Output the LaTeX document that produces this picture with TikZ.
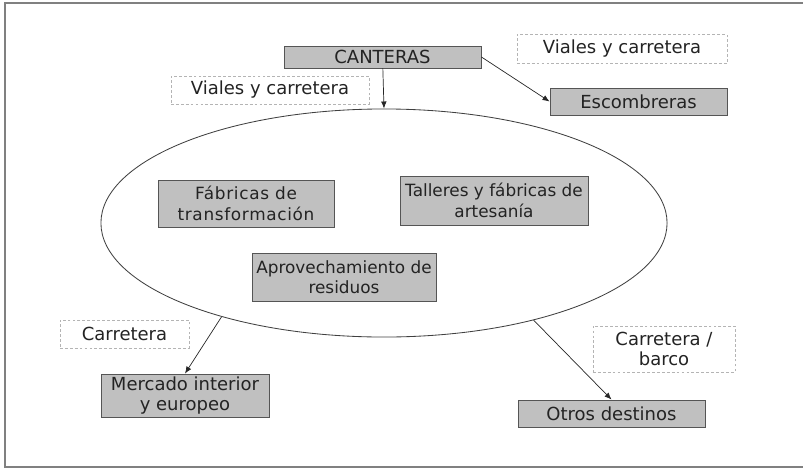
\documentclass[tikz,border=0pt]{standalone}
\usepackage{fontspec}
\setmainfont{DejaVu Sans}
\usetikzlibrary{shapes.geometric,arrows.meta}
\definecolor{cajagris}{RGB}{192,192,192}
\definecolor{bordegris}{RGB}{85,85,85}
\definecolor{rayagris}{RGB}{180,180,180}
\definecolor{textogris}{RGB}{35,35,35}

\begin{document}
\begin{tikzpicture}[x=0.025cm,y=-0.025cm,
  caja/.style={draw=bordegris,fill=cajagris,line width=0.6pt,align=center,inner sep=0pt,
    text=textogris,font=\fontsize{12.8}{14.5}\selectfont},
  cajachica/.style={caja,font=\fontsize{12}{14.5}\selectfont\addfontfeature{LetterSpace=4}},
  via/.style={draw=rayagris,dash pattern=on 2pt off 1.5pt,line width=0.5pt,align=center,
    inner sep=0pt,text=textogris,font=\fontsize{12.8}{14.5}\selectfont},
  flecha/.style={-{Latex[length=5pt,width=4pt]},draw=black!85,line width=0.5pt}]
\useasboundingbox (0,0) rectangle (803,468);
\draw[gray,line width=0.8pt] (810,467) -- (5,467) -- (5,3) -- (810,3);
\node[draw=black!75,line width=0.6pt,ellipse,inner sep=0pt,minimum width=14.15cm,minimum height=5.7cm] (zona) at (384,223) {};
\node[caja,minimum width=4.925cm,minimum height=0.55cm] (canteras) at (382.5,57) {CANTERAS};
\node[caja,minimum width=4.425cm,minimum height=0.675cm] (escombreras) at (638.5,101.5) {Escombreras};
\node[via,minimum width=4.95cm,minimum height=0.7cm] (vialesizq) at (270,90) {Viales y carretera};
\node[via,minimum width=5.25cm,minimum height=0.725cm] (vialesder) at (622,49) {Viales y carretera};
\node[cajachica,minimum width=4.4cm,minimum height=1.175cm] (fabricas) at (246,203.5) {Fábricas de\\transformación};
\node[cajachica,minimum width=4.7cm,minimum height=1.225cm,font=\fontsize{12}{14.5}\selectfont] (talleres) at (494,200.5) {Talleres y fábricas de\\artesanía};
\node[cajachica,minimum width=4.6cm,minimum height=1.2cm,font=\fontsize{12}{14.5}\selectfont] (residuos) at (344,277) {Aprovechamiento de\\residuos};
\node[via,minimum width=3.225cm,minimum height=0.7cm] (carretera) at (124.5,334) {Carretera};
\node[caja,minimum width=4.2cm,minimum height=1.075cm] (mercado) at (185,395.5) {Mercado interior\\y europeo};
\node[via,minimum width=3.55cm,minimum height=1.15cm] (barco) at (664,349) {Carretera /\\barco};
\node[caja,minimum width=4.675cm,minimum height=0.675cm] (otros) at (611.5,413.5) {Otros destinos};
\draw[flecha] (canteras) -- (zona.north);
\draw[flecha] (canteras.east) -- (escombreras.west);
\draw[flecha] (zona.210) -- (mercado.north);
\draw[flecha] (zona.-33) -- (otros.north);
\end{tikzpicture}
\end{document}
